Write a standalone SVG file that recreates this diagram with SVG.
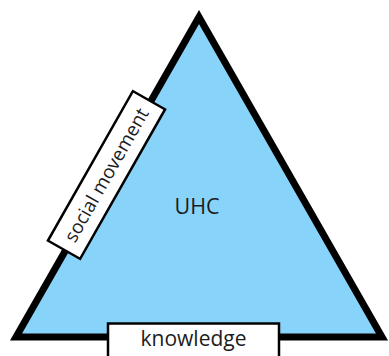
<svg xmlns="http://www.w3.org/2000/svg" width="389" height="356" viewBox="0 0 389 356">
<style>
.lbl{font-family:"Open Sans","Liberation Sans",sans-serif;fill:#1c1c1c;text-anchor:middle}
.box{fill:#fff;stroke:#000;stroke-width:2.5}
</style>
<rect width="389" height="356" fill="#fff"/>
<g id="triangle">
<polygon points="199,17 16,337 382,337" fill="#88D3FA" stroke="#000" stroke-width="7" stroke-linejoin="miter"/>
<text class="lbl" x="197" y="214" font-size="21.5">UHC</text>
</g>
<g id="social-movement" transform="translate(106.5,175) rotate(-60.4)">
<rect class="box" x="-86" y="-18.5" width="172" height="37"/>
<text class="lbl" x="0" y="6.5" font-size="19">social movement</text>
</g>
<g id="knowledge">
<rect class="box" x="108" y="323.5" width="171" height="40"/>
<text class="lbl" x="193.5" y="346" font-size="21">knowledge</text>
</g>
<g id="connectors"></g>
</svg>
